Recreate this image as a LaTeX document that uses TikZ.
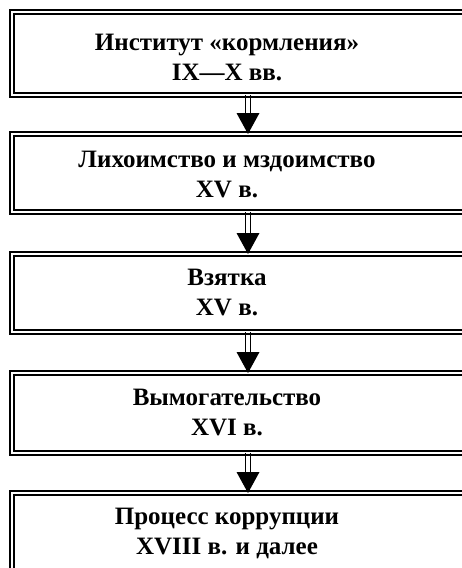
\documentclass[tikz,border=0pt]{standalone}
\usepackage{fontspec}
\setmainfont{Liberation Serif}
\begin{document}
\begin{tikzpicture}[x=1pt,y=-1pt,
  boxst/.style={draw, line width=2.2pt, double, double distance=2.2pt, minimum width=478pt, inner sep=0pt, outer sep=0pt},
  lbl/.style={font=\bfseries\fontsize{25}{30}\selectfont, align=center, inner sep=0pt},
  shaft/.style={line width=1.2pt}]
\useasboundingbox (0,0) rectangle (461,568);
\node[boxst, minimum height=83pt] (b1) at (251,53.5) {};
\node[boxst, minimum height=78pt] (b2) at (251,173) {};
\node[boxst, minimum height=78pt] (b3) at (251,293) {};
\node[boxst, minimum height=80pt] (b4) at (251,413) {};
\node[boxst, minimum height=110pt] (b5) at (251,548) {};
\node[lbl] (t1) at (227,57) {Институт «кормления»\\IX—X вв.};
\node[lbl] (t2) at (227,175) {Лихоимство и мздоимство\\XV в.};
\node[lbl] (t3) at (227,292) {Взятка\\XV в.};
\node[lbl] (t4) at (227,412) {Вымогательство\\XVI в.};
\node[lbl] (t5) at (227,533) {Процесс коррупции\\XVIII в. и далее};
\coordinate (ax) at (248,0);
\foreach \a/\b in {b1/b2,b2/b3,b3/b4,b4/b5}{
  \coordinate (s) at (\a.south -| ax);
  \coordinate (e) at (\b.north -| ax);
  \draw[shaft] ([xshift=-2.2pt]s) -- ([xshift=-2.2pt,yshift=21pt]e);
  \draw[shaft] ([xshift=2.2pt]s) -- ([xshift=2.2pt,yshift=21pt]e);
  \fill ([xshift=-11.5pt,yshift=21pt]e) -- ([xshift=11.5pt,yshift=21pt]e) -- (e) -- cycle;
}
\end{tikzpicture}
\end{document}
